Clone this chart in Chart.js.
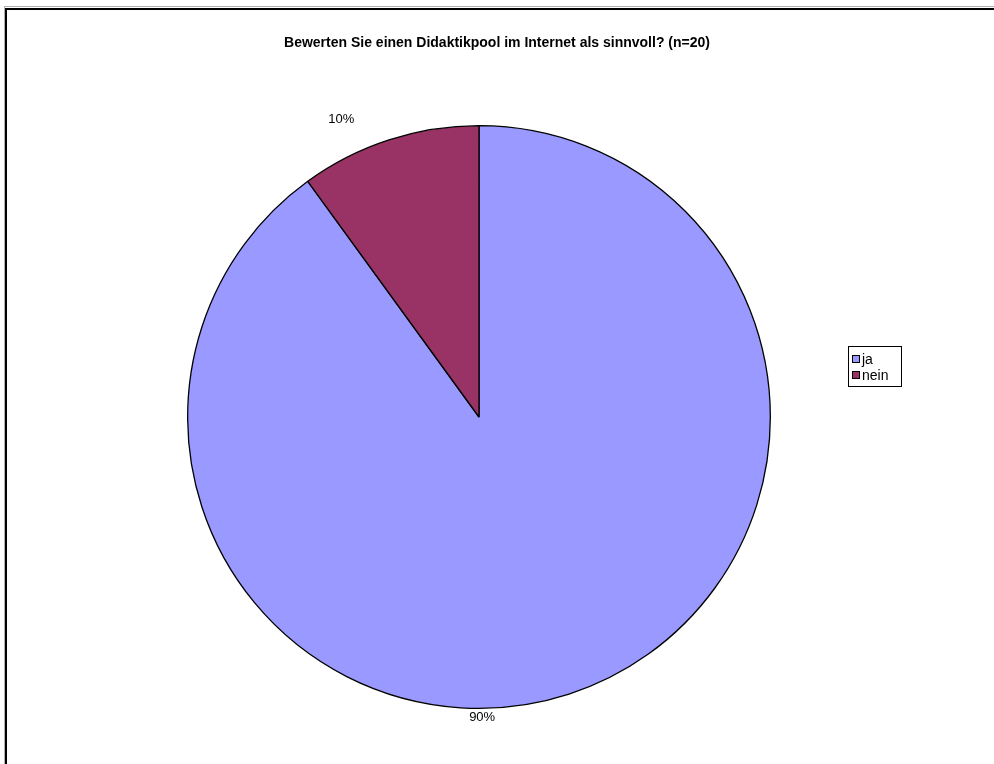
<!DOCTYPE html>
<html>
<head>
<meta charset="utf-8">
<script src="https://cdn.jsdelivr.net/npm/chart.js@4/dist/chart.umd.min.js"></script>
<style>
  html, body { margin: 0; padding: 0; background: #fff; }
  #wrap { width: 994px; height: 764px; position: relative; }
</style>
</head>
<body>
<div id="wrap"><canvas id="c" width="994" height="764"></canvas></div>
<script>
// Survey answers
const title = 'Bewerten Sie einen Didaktikpool im Internet als sinnvoll? (n=20)';
const categories = ['ja', 'nein'];
const shares = [90, 10];
const sliceColors = ['#9999FF', '#993366'];
// Where each percentage label sits around the pie: angle (deg, clockwise from top) and gap beyond the rim
const labelAngles = [179.4, -24.8];
const labelGaps = [9, 37];

const FONT = '"Liberation Sans", Arial, sans-serif';

// Outer frame and title
const framePlugin = {
  id: 'frame',
  beforeDraw(chart) {
    const ctx = chart.ctx;
    ctx.save();
    ctx.fillStyle = '#fff';
    ctx.fillRect(0, 0, chart.width, chart.height);
    ctx.strokeStyle = '#b0b0b0';
    ctx.lineWidth = 1;
    ctx.strokeRect(4.5, 6.5, 1200, 1200);
    ctx.strokeStyle = '#000';
    ctx.lineWidth = 2;
    ctx.strokeRect(6, 9, 1200, 1200);
    ctx.fillStyle = '#000';
    ctx.font = 'bold 14px ' + FONT;
    ctx.textAlign = 'center';
    ctx.textBaseline = 'middle';
    ctx.fillText(title, 497, 43);
    ctx.restore();
  }
};

// Percentage labels placed outside the slices
const pctLabels = {
  id: 'pctLabels',
  afterDatasetsDraw(chart) {
    const ctx = chart.ctx;
    const meta = chart.getDatasetMeta(0);
    const total = shares.reduce((a, b) => a + b, 0);
    ctx.save();
    ctx.font = '13px ' + FONT;
    ctx.fillStyle = '#000';
    ctx.textAlign = 'center';
    ctx.textBaseline = 'middle';
    meta.data.forEach((arc, i) => {
      const a = labelAngles[i] * Math.PI / 180;
      const d = arc.outerRadius + labelGaps[i];
      const x = arc.x + d * Math.sin(a);
      const y = arc.y - d * Math.cos(a);
      ctx.fillText(Math.round(shares[i] / total * 100) + '%', x, y);
    });
    ctx.restore();
  }
};

// Boxed legend on the right
const boxLegend = {
  id: 'boxLegend',
  afterDraw(chart) {
    const ctx = chart.ctx;
    const left = 848, top = 346, w = 53, rowH = 16;
    const h = rowH * categories.length + 8;
    ctx.save();
    ctx.fillStyle = '#fff';
    ctx.fillRect(left, top, w, h);
    ctx.strokeStyle = '#000';
    ctx.lineWidth = 1;
    ctx.strokeRect(left + 0.5, top + 0.5, w, h);
    ctx.font = '14px ' + FONT;
    ctx.textBaseline = 'middle';
    ctx.textAlign = 'left';
    categories.forEach((name, i) => {
      const cy = top + 13 + i * rowH;
      ctx.fillStyle = sliceColors[i];
      ctx.fillRect(852, cy - 4, 8, 8);
      ctx.strokeStyle = '#000';
      ctx.strokeRect(852.5, cy - 3.5, 7, 7);
      ctx.fillStyle = '#000';
      ctx.fillText(name, 862, cy + 1);
    });
    ctx.restore();
  }
};

new Chart(document.getElementById('c'), {
  type: 'pie',
  data: {
    labels: categories,
    datasets: [{
      data: shares,
      backgroundColor: sliceColors,
      borderColor: '#000',
      borderWidth: 1.3,
      borderAlign: 'center'
    }]
  },
  options: {
    responsive: false,
    animation: false,
    rotation: 0,
    layout: { padding: { left: 187, top: 125, right: 223, bottom: 55 } },
    plugins: {
      legend: { display: false },
      title: { display: false },
      tooltip: { enabled: false }
    }
  },
  plugins: [framePlugin, pctLabels, boxLegend]
});
</script>
</body>
</html>
